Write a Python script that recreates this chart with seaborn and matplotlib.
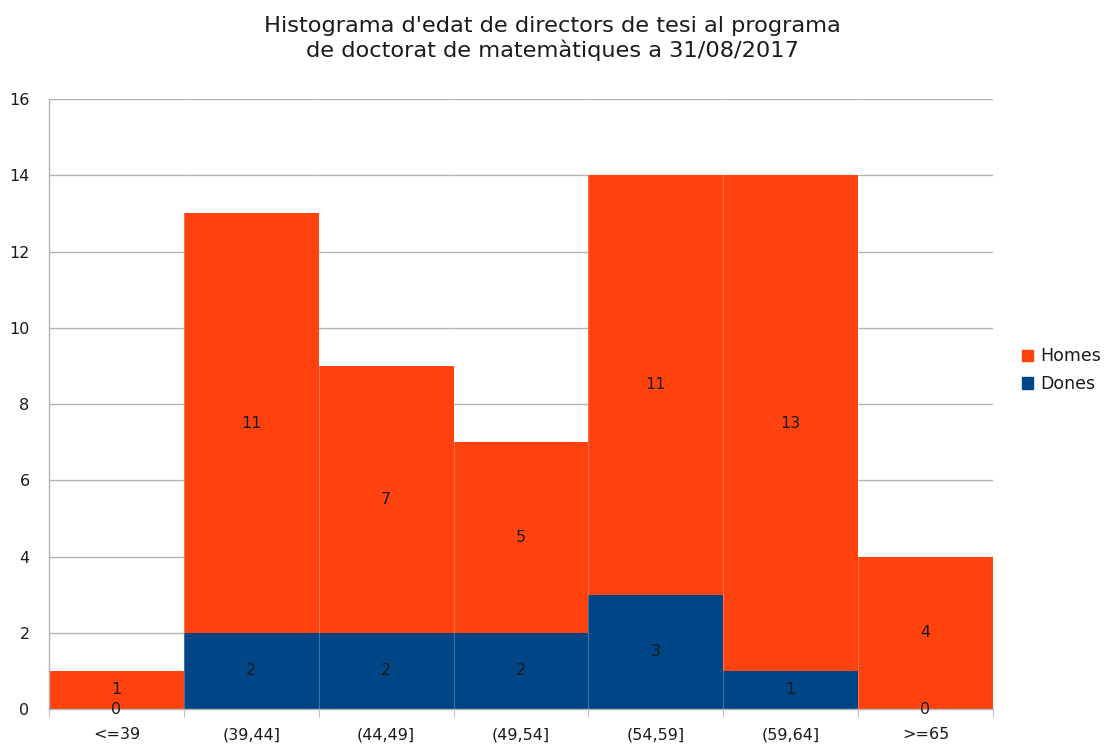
import seaborn as sns
import matplotlib
matplotlib.use("Agg")
import matplotlib.pyplot as plt
import matplotlib.patches as mpatches
import pandas as pd

categories = ["<=39", "(39,44]", "(44,49]", "(49,54]", "(54,59]", "(59,64]", ">=65"]
homes = [1, 11, 7, 5, 11, 13, 4]
dones = [0, 2, 2, 2, 3, 1, 0]

ORANGE = "#ff420e"
BLUE = "#004586"
GRID = "#b3b3b3"


def stacked_histogram():
    data = pd.DataFrame({"Edat": categories, "Homes": homes, "Dones": dones})
    data["Total"] = data["Homes"] + data["Dones"]

    sns.set_style("white")
    plt.rcParams["font.family"] = ["DejaVu Sans"]

    fig = plt.figure(figsize=(11.07, 7.45), dpi=100)
    ax = fig.add_axes([0.0443, 0.0483, 0.8527, 0.8187])

    sns.barplot(x="Edat", y="Total", data=data, color=ORANGE, width=1.0,
                saturation=1, linewidth=0, ax=ax, zorder=2)
    sns.barplot(x="Edat", y="Dones", data=data, color=BLUE, width=1.0,
                saturation=1, linewidth=0, ax=ax, zorder=2)

    # segment labels
    for i, row in data.iterrows():
        ax.text(i, row["Dones"] + row["Homes"] / 2, str(row["Homes"]),
                ha="center", va="center", fontsize=11.5, color="#1a1a1a", zorder=4)
        ax.text(i, row["Dones"] / 2, str(row["Dones"]),
                ha="center", va="center", fontsize=11.5, color="#1a1a1a", zorder=4)

    n = len(categories)
    ax.set_xlim(-0.5, n - 0.5)
    ax.set_ylim(0, 16)
    ax.set_yticks(range(0, 17, 2))
    ax.set_xticks(range(n))
    ax.set_xticklabels(categories)
    ax.set_xticks([i - 0.5 for i in range(n + 1)], minor=True)

    ax.grid(axis="y", color=GRID, linewidth=1, zorder=0)
    ax.set_axisbelow(True)
    for b in [i - 0.5 for i in range(1, n)]:
        ax.axvline(b, color="white", alpha=0.25, linewidth=0.8, zorder=3)

    for side in ["top", "right"]:
        ax.spines[side].set_visible(False)
    for side in ["left", "bottom"]:
        ax.spines[side].set_color(GRID)
        ax.spines[side].set_linewidth(1)

    ax.tick_params(axis="y", which="major", length=6, color=GRID, labelsize=11.5,
                   pad=8, labelcolor="#1a1a1a")
    ax.tick_params(axis="x", which="major", length=0, labelsize=11.5, pad=13,
                   labelcolor="#1a1a1a")
    ax.tick_params(axis="x", which="minor", length=6, color=GRID, bottom=True)
    ax.set_xlabel("")
    ax.set_ylabel("")

    ax.set_title("Histograma d'edat de directors de tesi al programa\n"
                 "de doctorat de matemàtiques a 31/08/2017",
                 fontsize=16.2, pad=30, x=0.533, linespacing=1.2, color="#1a1a1a")

    homes_patch = mpatches.Patch(color=ORANGE, label="Homes")
    dones_patch = mpatches.Patch(color=BLUE, label="Dones")
    fig.legend(handles=[homes_patch, dones_patch], loc="center left",
               bbox_to_anchor=(0.909, 0.503), frameon=False, fontsize=12.5,
               handlelength=0.65, handleheight=0.65, handletextpad=0.4,
               labelspacing=0.55, labelcolor="#1a1a1a")

    plt.savefig("out.png", dpi=100)


if __name__ == '__main__':
    stacked_histogram()
